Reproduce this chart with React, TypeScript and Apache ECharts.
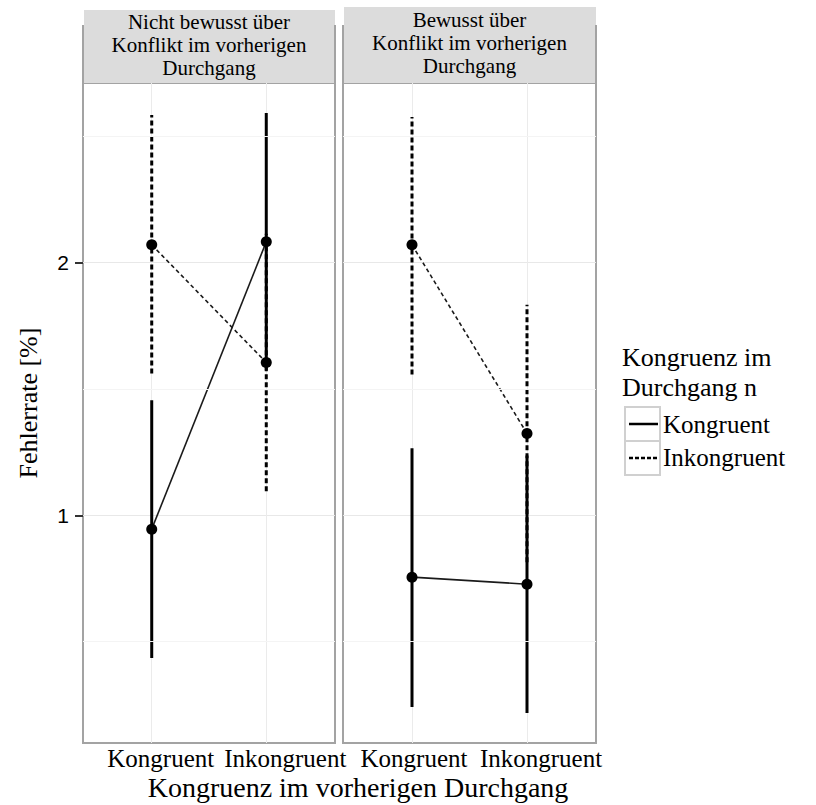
import React, { useEffect, useRef } from 'react';
import * as echarts from 'echarts';

// Conditions on the x axis (congruence in the previous trial)
const categories = ['Kongruent', 'Inkongruent'];
const categoryPositions = [1, 2];
// Facet titles
const panelTitles = [
  'Nicht bewusst über\nKonflikt im vorherigen\nDurchgang',
  'Bewusst über\nKonflikt im vorherigen\nDurchgang',
];
// Grouping (congruence in trial n)
const groups = ['Kongruent', 'Inkongruent'];

// Error rate means and confidence limits, panel "Nicht bewusst"
const meanNichtKongruent = [0.945, 2.083];
const lowNichtKongruent = [0.435, 1.573];
const highNichtKongruent = [1.455, 2.593];
const meanNichtInkongruent = [2.071, 1.605];
const lowNichtInkongruent = [1.561, 1.095];
const highNichtInkongruent = [2.585, 2.115];

// Panel "Bewusst"
const meanBewusstKongruent = [0.755, 0.727];
const lowBewusstKongruent = [0.241, 0.217];
const highBewusstKongruent = [1.265, 1.237];
const meanBewusstInkongruent = [2.071, 1.324];
const lowBewusstInkongruent = [1.557, 0.814];
const highBewusstInkongruent = [2.577, 1.834];

const yTicks = [1, 2];
const yMinorTicks = [0.5, 1.5, 2.5];

const SERIF = '"Liberation Serif", "Times New Roman", "DejaVu Serif", serif';
const SANS = '"Liberation Sans", Arial, "DejaVu Sans", sans-serif';

const allLows = [...lowNichtKongruent, ...lowNichtInkongruent, ...lowBewusstKongruent, ...lowBewusstInkongruent];
const allHighs = [...highNichtKongruent, ...highNichtInkongruent, ...highBewusstKongruent, ...highBewusstInkongruent];
const dataMin = Math.min(...allLows);
const dataMax = Math.max(...allHighs);
const pad = (dataMax - dataMin) * 0.05;
const yMin = dataMin - pad;
const yMax = dataMax + pad;

const panels = [
  {
    groupData: [
      { mean: meanNichtKongruent, low: lowNichtKongruent, high: highNichtKongruent },
      { mean: meanNichtInkongruent, low: lowNichtInkongruent, high: highNichtInkongruent },
    ],
  },
  {
    groupData: [
      { mean: meanBewusstKongruent, low: lowBewusstKongruent, high: highBewusstKongruent },
      { mean: meanBewusstInkongruent, low: lowBewusstInkongruent, high: highBewusstInkongruent },
    ],
  },
];

const gridBoxes = [
  { left: 83, width: 252 },
  { left: 343, width: 253 },
];
const GRID_TOP = 83;
const GRID_HEIGHT = 660;
const BORDER = '#a3a3a3';

// horizontal nudge (px) of each category label from its axis position
const labelNudge = [
  [9, 19],
  [2, 14],
];

function buildOption() {
  const grid = gridBoxes.map((g) => ({
    left: g.left,
    top: GRID_TOP,
    width: g.width,
    height: GRID_HEIGHT,
    show: true,
    backgroundColor: '#ffffff',
    borderColor: BORDER,
    borderWidth: 2,
  }));

  const xAxis = gridBoxes.map((_, i) => ({
    type: 'value',
    gridIndex: i,
    min: 0.4,
    max: 2.6,
    axisLine: { show: false },
    axisTick: { show: false, customValues: categoryPositions },
    axisLabel: { show: false, customValues: categoryPositions },
    splitLine: { show: true, lineStyle: { color: '#ebebeb', width: 1 } },
  }));

  const yAxis = gridBoxes.map((_, i) => ({
    type: 'value',
    gridIndex: i,
    min: yMin,
    max: yMax,
    axisLine: { show: false },
    axisTick: {
      show: i === 0,
      customValues: yTicks,
      length: 8,
      lineStyle: { color: '#333', width: 2 },
    },
    axisLabel: {
      show: i === 0,
      customValues: yTicks,
      margin: 14,
      fontFamily: SANS,
      fontSize: 21,
      color: '#000',
      formatter: (v: number) => String(v),
    },
    splitLine: { show: true, lineStyle: { color: '#e8e8e8', width: 1 } },
  }));

  const series: any[] = [];

  panels.forEach((panel, pi) => {
    // minor horizontal grid lines
    series.push({
      type: 'line',
      xAxisIndex: pi,
      yAxisIndex: pi,
      data: [],
      z: 1,
      silent: true,
      markLine: {
        silent: true,
        symbol: ['none', 'none'],
        label: { show: false },
        lineStyle: { color: '#f4f4f4', width: 1, type: 'solid' },
        data: yMinorTicks.map((v) => ({ yAxis: v })),
      },
    });

    panel.groupData.forEach((g, gi) => {
      const dashed = gi === 1;
      // confidence intervals
      series.push({
        name: groups[gi],
        type: 'custom',
        xAxisIndex: pi,
        yAxisIndex: pi,
        z: 3,
        silent: true,
        itemStyle: { color: '#000' },
        encode: { x: 0, y: [1, 2] },
        data: categoryPositions.map((x, k) => [x, g.low[k], g.high[k]]),
        renderItem: (_params: any, api: any) => {
          const p1 = api.coord([api.value(0), api.value(1)]);
          const p2 = api.coord([api.value(0), api.value(2)]);
          return {
            type: 'line',
            shape: { x1: p1[0], y1: p1[1], x2: p2[0], y2: p2[1] },
            style: {
              stroke: '#000',
              lineWidth: 3,
              lineDash: dashed ? [5, 3] : null,
            },
          };
        },
      });
      // means connected by a line
      series.push({
        name: groups[gi],
        type: 'line',
        xAxisIndex: pi,
        yAxisIndex: pi,
        z: 4,
        silent: true,
        data: categoryPositions.map((x, k) => [x, g.mean[k]]),
        symbol: 'circle',
        symbolSize: 11,
        itemStyle: { color: '#000' },
        lineStyle: { color: '#1a1a1a', width: 1.6, type: dashed ? [4, 3] : 'solid' },
      });
    });
  });

  return {
    animation: false,
    backgroundColor: '#ffffff',
    grid,
    xAxis,
    yAxis,
    series,
    graphic: buildGraphic(),
    legend: {
      data: groups,
      orient: 'vertical',
      left: 628,
      top: 408,
      icon: 'rect',
      itemWidth: 30,
      itemHeight: 33,
      itemGap: 0,
      padding: 0,
      selectedMode: false,
      itemStyle: { color: 'rgba(0,0,0,0)', borderWidth: 0 },
      lineStyle: { opacity: 0 },
      textStyle: { fontFamily: SERIF, fontSize: 25, color: '#000' },
    },
  };
}

function buildGraphic() {
  const graphic: any[] = [];
  // facet strips
  const stripTops = [10, 7];
  const textCenters = [45, 43];
  gridBoxes.forEach((g, i) => {
    graphic.push({
      type: 'rect',
      shape: { x: g.left + 1, y: stripTops[i], width: g.width - 1, height: GRID_TOP - stripTops[i] },
      style: { fill: '#dcdcdc' },
      z: 0,
    });
    graphic.push({
      type: 'line',
      shape: { x1: g.left, y1: 25, x2: g.left, y2: GRID_TOP },
      style: { stroke: BORDER, lineWidth: 2 },
      z: 1,
    });
    graphic.push({
      type: 'line',
      shape: { x1: g.left + g.width, y1: 25, x2: g.left + g.width, y2: GRID_TOP },
      style: { stroke: BORDER, lineWidth: 2 },
      z: 1,
    });
    graphic.push({
      type: 'text',
      x: g.left + g.width / 2,
      y: textCenters[i],
      z: 2,
      style: {
        text: panelTitles[i],
        align: 'center',
        verticalAlign: 'middle',
        fontFamily: SERIF,
        fontSize: 21,
        lineHeight: 23,
        fill: '#000',
      },
    });
  });

  // axis titles
  graphic.push({
    type: 'text',
    x: 28,
    y: 403,
    rotation: Math.PI / 2,
    style: {
      text: 'Fehlerrate [%]',
      align: 'center',
      verticalAlign: 'middle',
      fontFamily: SERIF,
      fontSize: 26,
      fill: '#000',
    },
  });
  graphic.push({
    type: 'text',
    x: 358,
    y: 787,
    style: {
      text: 'Kongruenz im vorherigen Durchgang',
      align: 'center',
      verticalAlign: 'middle',
      fontFamily: SERIF,
      fontSize: 28,
      fill: '#000',
    },
  });

  // legend title, key boxes and key lines
  graphic.push({
    type: 'text',
    x: 622,
    y: 342,
    style: {
      text: 'Kongruenz im\nDurchgang n',
      align: 'left',
      verticalAlign: 'top',
      fontFamily: SERIF,
      fontSize: 26,
      lineHeight: 30,
      fill: '#000',
    },
  });
  const keyTops = [407, 441];
  keyTops.forEach((y, k) => {
    graphic.push({
      type: 'rect',
      shape: { x: 625, y, width: 35, height: 34 },
      style: { fill: '#fff', stroke: '#d0d0d0', lineWidth: 2 },
      z: 1,
    });
    graphic.push({
      type: 'line',
      shape: { x1: 629, y1: y + 17, x2: 658, y2: y + 17 },
      style: { stroke: '#000', lineWidth: 2.5, lineDash: k === 1 ? [4, 2] : null },
      z: 2,
    });
  });
  return graphic;
}

// category labels under each panel, placed through the panel's own x scale
function buildCategoryLabels(chart: echarts.ECharts) {
  const labels: any[] = [];
  gridBoxes.forEach((_, i) => {
    const baseY = chart.convertToPixel({ yAxisIndex: i } as any, yMin) as number;
    categoryPositions.forEach((v, k) => {
      const px = chart.convertToPixel({ xAxisIndex: i } as any, v) as number;
      labels.push({
        type: 'text',
        x: px + labelNudge[i][k],
        y: baseY + 3,
        style: {
          text: categories[k],
          align: 'center',
          verticalAlign: 'top',
          fontFamily: SERIF,
          fontSize: 25,
          fill: '#000',
        },
      });
    });
  });
  return labels;
}

export default function App() {
  const ref = useRef<HTMLDivElement>(null);
  useEffect(() => {
    if (!ref.current) return;
    const chart = echarts.init(ref.current, null, { renderer: 'svg' });
    chart.setOption(buildOption() as any);
    chart.setOption({ graphic: [...buildGraphic(), ...buildCategoryLabels(chart)] } as any);
    return () => chart.dispose();
  }, []);
  return (
    <div
      ref={ref}
      style={{ position: 'absolute', left: 0, top: 0, width: 816, height: 805, background: '#fff' }}
    />
  );
}
